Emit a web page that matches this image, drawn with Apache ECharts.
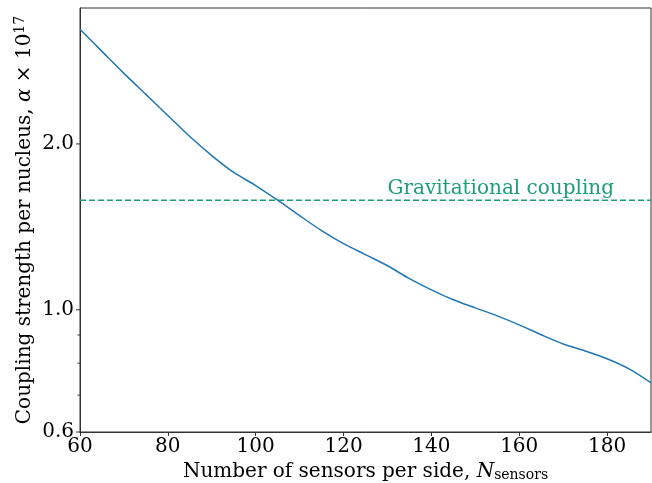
<!DOCTYPE html>
<html>
<head>
<meta charset="utf-8">
<script src="https://cdn.jsdelivr.net/npm/echarts@6/dist/echarts.min.js"></script>
<style>
html,body{margin:0;padding:0;background:#fff;}
#chart{width:652px;height:483px;}
</style>
</head>
<body>
<div id="chart"></div>
<script>
// ---- data ----
const sensorsPerSide = [60,65,70,75,80,85,90,95,100,105,110,115,120,125,130,135,140,145,150,155,160,165,170,175,180,185,190];
const couplingStrength = [3.229,2.945,2.686,2.460,2.253,2.063,1.905,1.775,1.681,1.581,1.482,1.392,1.318,1.259,1.202,1.139,1.087,1.043,1.008,0.975,0.939,0.901,0.867,0.842,0.815,0.781,0.737];
const gravCoupling = 1.58;
const gravLabel = 'Gravitational coupling';
const gravLabelX = 130;
const xTickValues = [60,80,100,120,140,160,180];
const yMajorTicks = [0.6, 1.0, 2.0];
const yMajorLabels = ['0.6', '1.0', '2.0'];
const yMinorTicks = [0.7, 0.8, 0.9];

const FONT = 'DejaVu Serif';
const FS = 20;
const AXIS_COLOR = '#333';
const LINE_COLOR = '#1f77b4';
const GRAV_COLOR = '#1b9e77';

const chart = echarts.init(document.getElementById('chart'), null, {renderer: 'canvas'});

const option = {
  animation: false,
  backgroundColor: '#fff',
  grid: {
    left: 80, right: 1, top: 8, bottom: 51,
    outerBoundsMode: 'none', containLabel: false,
    show: true, borderColor: AXIS_COLOR, borderWidth: 1, backgroundColor: 'transparent'
  },
  xAxis: {
    type: 'value', min: 60, max: 190, interval: 20,
    axisLine: {show: true, lineStyle: {color: AXIS_COLOR, width: 1}},
    axisTick: {show: true, length: 4, lineStyle: {color: AXIS_COLOR}, customValues: xTickValues},
    axisLabel: {show: true, fontFamily: FONT, fontSize: FS, color: '#000', margin: 5, customValues: xTickValues},
    splitLine: {show: false},
    name: 'Number of sensors per side, {i|N}{sub|sensors}',
    nameLocation: 'middle', nameGap: 20,
    nameTextStyle: {
      fontFamily: FONT, fontSize: FS, color: '#000',
      rich: {
        i: {fontFamily: FONT, fontSize: FS, fontStyle: 'italic', color: '#000'},
        sub: {fontFamily: FONT, fontSize: 14, color: '#000', verticalAlign: 'bottom', padding: [7, 0, 0, 0]}
      }
    }
  },
  yAxis: {
    type: 'log', logBase: 10, min: 0.6, max: 3.53,
    axisLine: {show: true, lineStyle: {color: AXIS_COLOR, width: 1}},
    axisTick: {show: false},
    axisLabel: {show: false},
    splitLine: {show: false},
    minorTick: {show: false},
    name: 'Coupling strength per nucleus, {i|α} × 10{sup|17}',
    nameLocation: 'middle', nameRotate: 90, nameGap: 44,
    nameTextStyle: {
      fontFamily: FONT, fontSize: FS, color: '#000',
      rich: {
        i: {fontFamily: FONT, fontSize: FS, fontStyle: 'italic', color: '#000'},
        sup: {fontFamily: FONT, fontSize: 14, color: '#000', verticalAlign: 'top', padding: [0, 0, 9, 0]}
      }
    }
  },
  series: [
    {
      type: 'line',
      data: sensorsPerSide.map((x, i) => [x, couplingStrength[i]]),
      showSymbol: false, smooth: 0.3,
      lineStyle: {color: LINE_COLOR, width: 1.5},
      z: 3
    },
    {
      type: 'line',
      data: [[sensorsPerSide[0], gravCoupling], [sensorsPerSide[sensorsPerSide.length - 1], gravCoupling]],
      showSymbol: false,
      lineStyle: {color: GRAV_COLOR, width: 1.5, type: [6, 3]},
      z: 2
    },
    {
      type: 'custom',
      clip: false,
      silent: true,
      data: [[gravLabelX, gravCoupling]],
      renderItem: function (params, api) {
        const p = api.coord([api.value(0), api.value(1)]);
        return {
          type: 'text', x: p[0], y: p[1] - 2,
          style: {text: gravLabel, fontFamily: FONT, fontSize: FS, fill: GRAV_COLOR, align: 'left', verticalAlign: 'bottom'}
        };
      },
      z: 4
    },
    {
      type: 'custom',
      clip: false,
      silent: true,
      data: yMajorTicks.map((v, i) => [60, v, i]),
      renderItem: function (params, api) {
        const p = api.coord([api.value(0), api.value(1)]);
        const idx = api.value(2);
        return {
          type: 'group',
          children: [
            {type: 'line', shape: {x1: p[0] - 4, y1: p[1], x2: p[0], y2: p[1]}, style: {stroke: AXIS_COLOR, lineWidth: 1}},
            {type: 'text', x: p[0] - 6, y: p[1], style: {text: yMajorLabels[idx], fontFamily: FONT, fontSize: FS, fill: '#000', align: 'right', verticalAlign: 'middle'}}
          ]
        };
      },
      z: 10
    },
    {
      type: 'custom',
      clip: false,
      silent: true,
      data: yMinorTicks.map(v => [60, v]),
      renderItem: function (params, api) {
        const p = api.coord([api.value(0), api.value(1)]);
        return {type: 'line', shape: {x1: p[0] - 2.5, y1: p[1], x2: p[0], y2: p[1]}, style: {stroke: AXIS_COLOR, lineWidth: 1}};
      },
      z: 10
    }
  ]
};
chart.setOption(option);
</script>
</body>
</html>
